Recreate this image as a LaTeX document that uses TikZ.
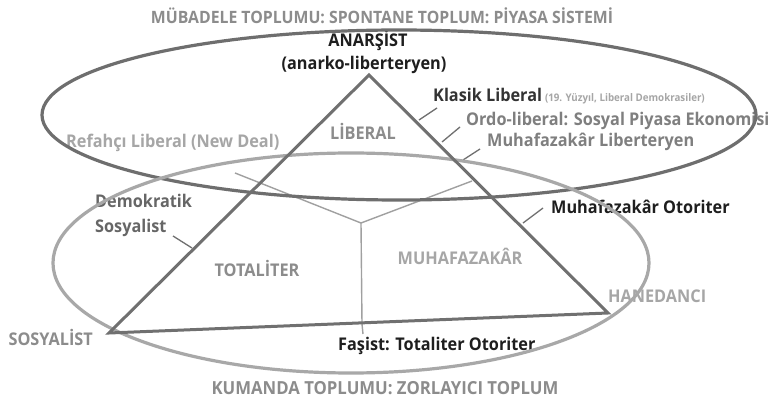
\documentclass[tikz,border=0pt]{standalone}
\usepackage{fontspec}
\setmainfont{Open Sans}[FakeStretch=0.93]
\definecolor{cBlack}{HTML}{1E1E1E}
\definecolor{cDark}{HTML}{333333}
\definecolor{cMid}{HTML}{7F7F7F}
\definecolor{cGray}{HTML}{8C8C8C}
\definecolor{cLight}{HTML}{A6A6A6}
\definecolor{cDem}{HTML}{666666}
\definecolor{cTri}{HTML}{707070}
\definecolor{cTopEl}{HTML}{6E6E6E}
\definecolor{cBotEl}{HTML}{A8A8A8}
\definecolor{cY}{HTML}{A0A0A0}
\begin{document}
\begin{tikzpicture}[x=1pt,y=-1pt,
  lbl/.style={font=\bfseries\fontsize{17.5}{20}\selectfont, inner sep=0pt, anchor=base west},
  clbl/.style={lbl, anchor=base},
  tri/.style={draw=cTri, line width=3pt, line join=miter},
  elTop/.style={draw=cTopEl, line width=3.2pt},
  elBot/.style={draw=cBotEl, line width=3.2pt},
  yline/.style={draw=cY, line width=1.4pt},
  tick/.style={draw=cTri, line width=1.3pt}]
\useasboundingbox (0,0) rectangle (780,398);
\fill[white] (0,0) rectangle (780,398);
% labels
\node[clbl,text=cGray,font=\bfseries\fontsize{17}{20}\selectfont] (title) at (382,24) {MÜBADELE TOPLUMU: SPONTANE TOPLUM: PİYASA SİSTEMİ};
\node[clbl,text=cBlack] (anar) at (368,47) {ANARŞİST};
\node[clbl,text=cBlack] (anarko) at (364,70) {(anarko-liberteryen)};
\node[lbl,text=cDark] (klasik) at (433,102) {Klasik Liberal\,{\fontsize{10.5}{12}\selectfont\color{cLight}(19. Yüzyıl, Liberal Demokrasiler)}};
\node[lbl,text=cMid] (ordo) at (466,126) {Ordo-liberal: Sosyal Piyasa Ekonomisi};
\node[lbl,text=cMid] (muhlib) at (487,147) {Muhafazakâr Liberteryen};
\node[lbl,text=cLight] (refah) at (66,148) {Refahçı Liberal (New Deal)};
\node[clbl,text=cGray] (liberal) at (363,140) {LİBERAL};
\node[lbl,text=cDem,align=left] (demok) at (95,208) {Demokratik};
\node[lbl,text=cDem] (sosy) at (95,233) {Sosyalist};
\node[clbl,text=cGray] (totaliter) at (257,277) {TOTALİTER};
\node[clbl,text=cLight] (muhafazakar) at (460,265) {MUHAFAZAKÂR};
\node[lbl,text=cBlack] (muhoto) at (551,214) {Muhafazakâr Otoriter};
\node[lbl,text=cLight] (hanedan) at (608,303) {HANEDANCI};
\node[lbl,anchor=base east,text=cGray] (sosyalist) at (93,346) {SOSYALİST};
\node[lbl,text=cBlack] (fasist) at (338,351) {Faşist: Totaliter Otoriter};
\node[clbl,text=cGray,font=\bfseries\fontsize{18}{20}\selectfont] (kumanda) at (385,395) {KUMANDA TOPLUMU: ZORLAYICI TOPLUM};
% geometry
\coordinate (A) at (369,75);
\coordinate (L) at (109,333);
\coordinate (R) at (608,313);
\coordinate (C) at (361,223);
\coordinate (Yl) at (235,173);
\coordinate (Yr) at (472,181);
\coordinate (Yb) at (362,324);
\coordinate (Yf) at (363,334);
% Y lines
\draw[yline] (Yl) -- (C) -- (Yr);
\draw[yline] (C) -- (Yb) -- (Yf);
% ticks
\draw[tick] (419,120) -- (437,108);
\draw[tick] (442,142) -- (460,127);
\draw[tick] (463,160) -- (480,149);
\draw[tick] (523,223) -- (543,208);
\draw[tick] (173,236) -- (192,248);
% ellipses
\draw[elTop] (399,115) ellipse [x radius=357, y radius=85];
\draw[elBot] (351,263) ellipse [x radius=298, y radius=110];
% triangle
\draw[tri] (A) -- (R) -- (L) -- cycle;
\end{tikzpicture}
\end{document}
